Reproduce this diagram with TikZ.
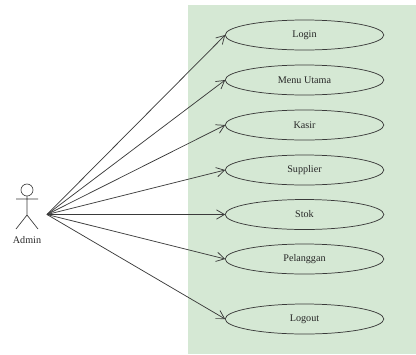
\documentclass[tikz,border=0pt]{standalone}
\usepackage{fontspec}
\setmainfont{Liberation Serif}
\usetikzlibrary{arrows.meta,shapes.geometric}
\definecolor{panel}{HTML}{D5E8D4}
\definecolor{ink}{HTML}{3A3A3A}
\tikzset{
  every node/.style={inner sep=0pt,outer sep=0pt},
  usecase/.style={draw=ink,line width=0.55pt,shape=ellipse,minimum width=119pt,minimum height=22.5pt,font=\fontsize{7.6}{9}\selectfont,text=black!85},
  assoc/.style={draw=ink,line width=0.55pt,-{Straight Barb[length=6pt,width=7pt]}},
  figure/.style={draw=ink,line width=0.5pt}
}
\begin{document}
\begin{tikzpicture}[x=0.75pt,y=-0.75pt]
\useasboundingbox (0,0) rectangle (416,354);
\fill[panel] (188,4.5) rectangle (416,354);
\node[usecase] (login) at (304.5,35) {Login};
\node[usecase] (menu) at (304.5,80) {Menu Utama};
\node[usecase] (kasir) at (304.5,125) {Kasir};
\node[usecase] (supplier) at (304.5,170) {Supplier};
\node[usecase] (stok) at (304.5,214.5) {Stok};
\node[usecase] (pelanggan) at (304.5,259) {Pelanggan};
\node[usecase] (logout) at (304.5,319) {Logout};
\coordinate (hub) at (47,214.5);
\foreach \t in {login,menu,kasir,supplier,stok,pelanggan,logout}
  \draw[assoc] (hub) -- (\t.west);
\coordinate (head) at (27,190);
\draw[figure] (head) circle (6);
\coordinate (neck) at (27,196);
\coordinate (hip) at (27,215);
\coordinate (larm) at (16,199);
\coordinate (rarm) at (38,199);
\coordinate (lfoot) at (16,229);
\coordinate (rfoot) at (38,229);
\draw[figure] (neck) -- (hip) (larm) -- (rarm) (lfoot) -- (hip) -- (rfoot);
\node[font=\fontsize{7.6}{9}\selectfont,text=black!85] (admin) at (27,240.5) {Admin};
\end{tikzpicture}
\end{document}
